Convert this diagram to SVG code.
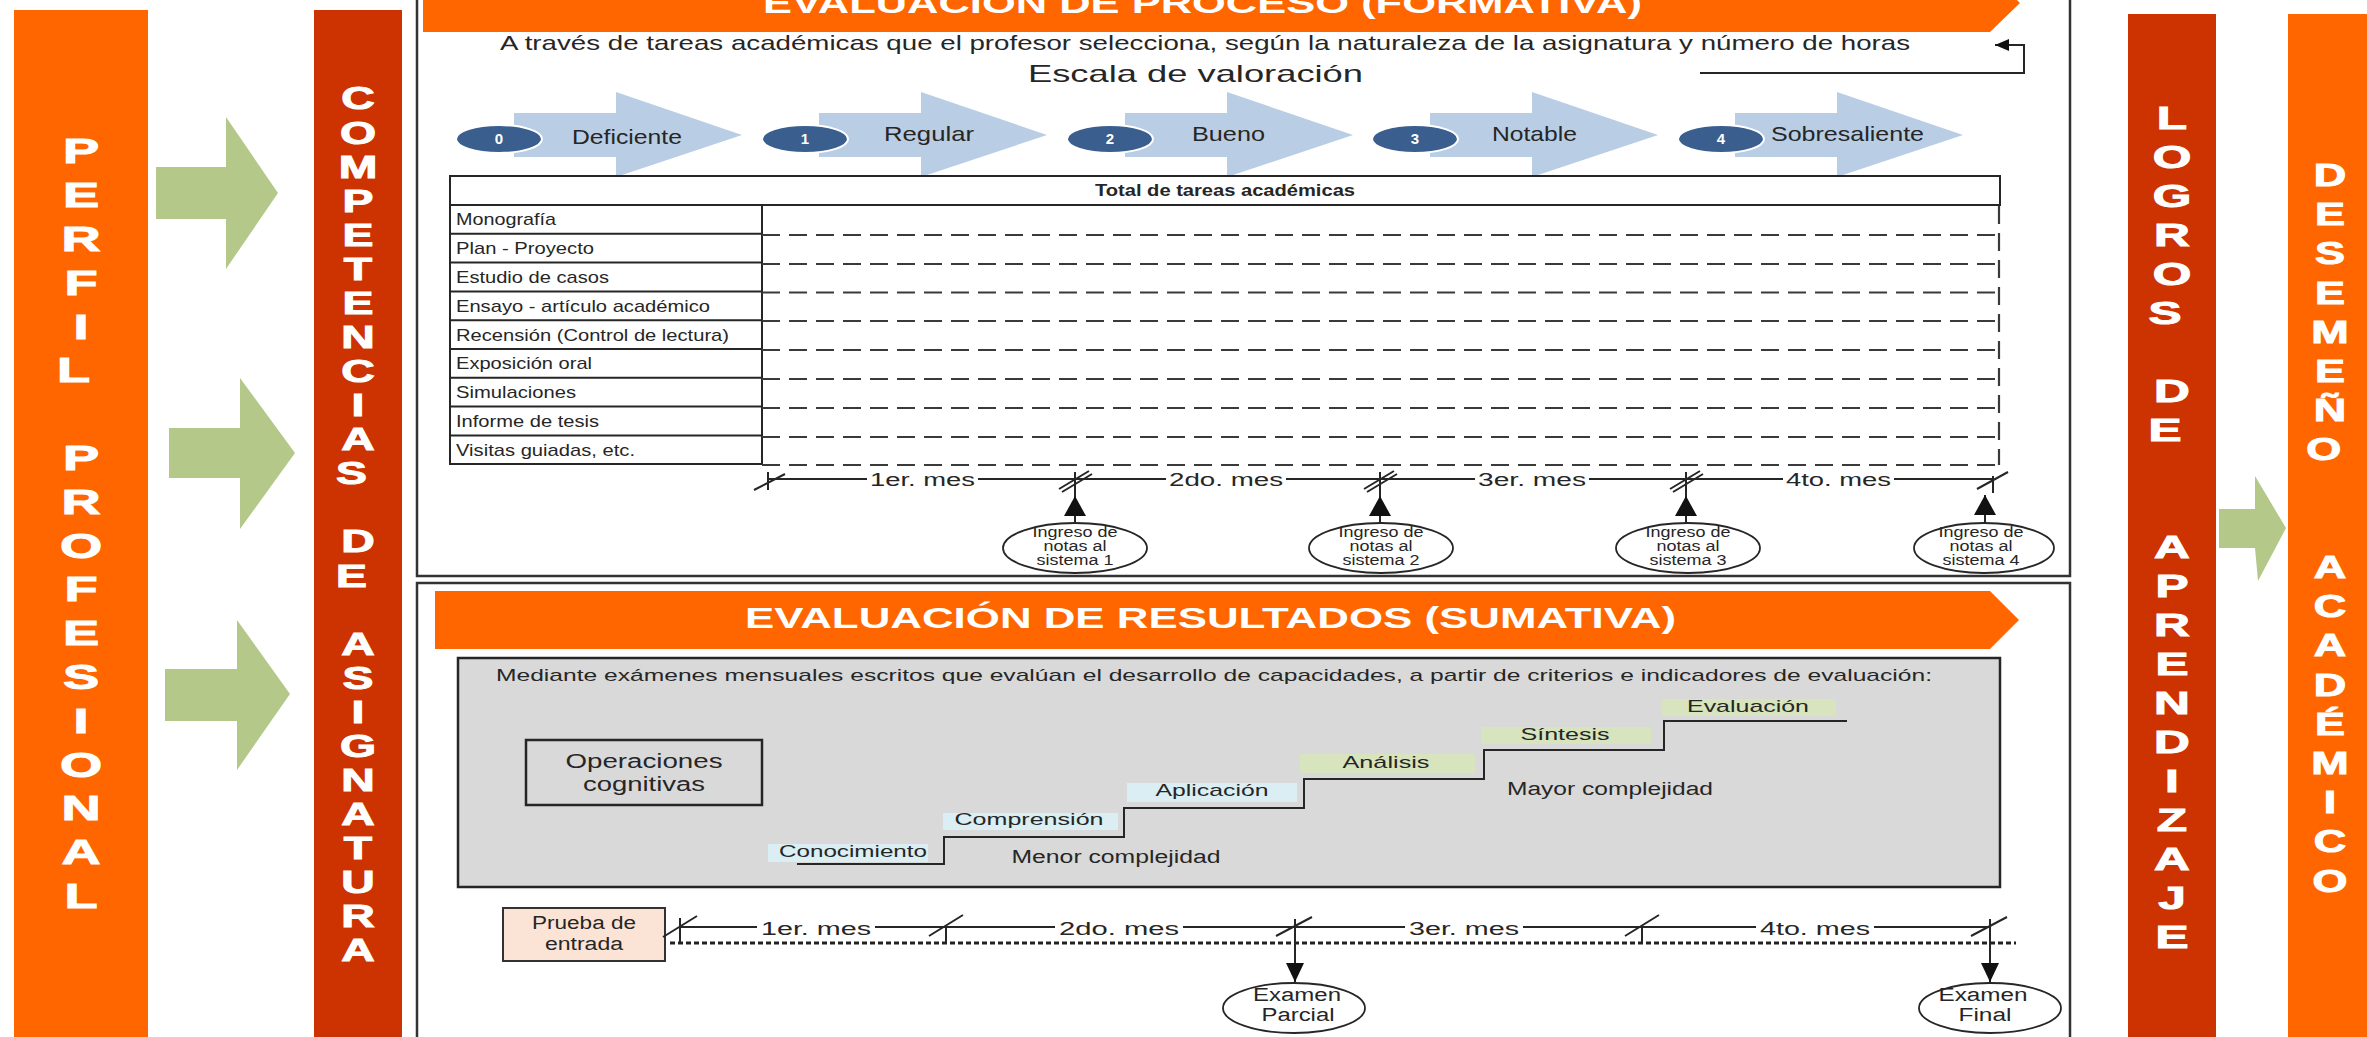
<svg xmlns="http://www.w3.org/2000/svg" width="2367" height="1037" viewBox="0 0 2367 1037">
<style>
.f{font-family:"Liberation Sans",Arial,sans-serif;fill:#262626}
.b{font-weight:bold}
.wt{fill:#fff}
.c{text-anchor:middle}
.vl{font-family:"Liberation Sans",Arial,sans-serif;font-weight:bold;fill:#fff;stroke:#fff;stroke-width:1;text-anchor:middle}
.ln{stroke:#262626;stroke-width:2;fill:none}
.dash{stroke:#3a3a3a;stroke-width:2.2;stroke-dasharray:18 9;fill:none}
.frame{fill:none;stroke:#333;stroke-width:2.5}
.green{fill:#B4C989}
.chev{fill:#B9CDE5}
.circ{fill:#3A5F8E;stroke:#fff;stroke-width:2}
.num{font-family:"Liberation Sans",Arial,sans-serif;font-weight:bold;fill:#fff;text-anchor:middle}
.ell{fill:#fff;stroke:#262626;stroke-width:1.8}
.orange{fill:#FF6600}
.red{fill:#CC3300}
.lab{stroke:none}
</style>
<defs>
<marker id="ah" markerUnits="userSpaceOnUse" markerWidth="20" markerHeight="22" viewBox="0 0 20 22" refX="20" refY="11" orient="auto"><path d="M0,0 L20,11 L0,22 z" fill="#111"/></marker>
<marker id="ah2" markerUnits="userSpaceOnUse" markerWidth="19" markerHeight="18" viewBox="0 0 19 18" refX="19" refY="9" orient="auto"><path d="M0,0 L19,9 L0,18 z" fill="#111"/></marker>
<marker id="ah3" markerUnits="userSpaceOnUse" markerWidth="14" markerHeight="12" viewBox="0 0 14 12" refX="14" refY="6" orient="auto"><path d="M0,0 L14,6 L0,12 z" fill="#111"/></marker>
</defs>

<!-- Left bars -->
<g id="perfil-profesional">
<rect class="orange" x="14" y="10" width="134" height="1030"/>
<g transform="translate(81 0) scale(1.55 1)"><text class="vl" font-size="35">
<tspan x="0" y="163.5">P</tspan><tspan x="0" y="207.3">E</tspan><tspan x="0" y="251.1">R</tspan><tspan x="0" y="294.9">F</tspan><tspan x="0" y="338.7">I</tspan><tspan x="0" y="382.5">L</tspan>
<tspan x="0" y="470.1">P</tspan><tspan x="0" y="513.9">R</tspan><tspan x="0" y="557.7">O</tspan><tspan x="0" y="601.5">F</tspan><tspan x="0" y="645.3">E</tspan><tspan x="0" y="689.1">S</tspan><tspan x="0" y="732.9">I</tspan><tspan x="0" y="776.7">O</tspan><tspan x="0" y="820.5">N</tspan><tspan x="0" y="864.3">A</tspan><tspan x="0" y="908.1">L</tspan>
</text></g>
</g>

<g id="competencias-asignatura">
<rect class="red" x="314" y="10" width="88" height="1030"/>
<g transform="translate(358 0) scale(1.45 1)"><text class="vl" font-size="32">
<tspan x="0" y="109.5">C</tspan><tspan x="0" y="143.6">O</tspan><tspan x="0" y="177.7">M</tspan><tspan x="0" y="211.7">P</tspan><tspan x="0" y="245.8">E</tspan><tspan x="0" y="279.9">T</tspan><tspan x="0" y="314">E</tspan><tspan x="0" y="348.1">N</tspan><tspan x="0" y="382.1">C</tspan><tspan x="0" y="416.2">I</tspan><tspan x="0" y="450.3">A</tspan><tspan x="0" y="484.4">S</tspan>
<tspan x="0" y="552.5">D</tspan><tspan x="0" y="586.6">E</tspan>
<tspan x="0" y="654.8">A</tspan><tspan x="0" y="688.9">S</tspan><tspan x="0" y="722.9">I</tspan><tspan x="0" y="757">G</tspan><tspan x="0" y="791.1">N</tspan><tspan x="0" y="825.2">A</tspan><tspan x="0" y="859.3">T</tspan><tspan x="0" y="893.3">U</tspan><tspan x="0" y="927.4">R</tspan><tspan x="0" y="961.5">A</tspan>
</text></g>
</g>

<!-- Right bars -->
<g id="logros-aprendizaje">
<rect class="red" x="2128" y="14" width="88" height="1030"/>
<g transform="translate(2172 0) scale(1.55 1)"><text class="vl" font-size="32">
<tspan x="0" y="129.5">L</tspan><tspan x="0" y="168.5">O</tspan><tspan x="0" y="207.5">G</tspan><tspan x="0" y="246.5">R</tspan><tspan x="0" y="285.5">O</tspan><tspan x="0" y="324.5">S</tspan>
<tspan x="0" y="402.5">D</tspan><tspan x="0" y="441.5">E</tspan>
<tspan x="0" y="558.5">A</tspan><tspan x="0" y="597.5">P</tspan><tspan x="0" y="636.5">R</tspan><tspan x="0" y="675.5">E</tspan><tspan x="0" y="714.5">N</tspan><tspan x="0" y="753.5">D</tspan><tspan x="0" y="792.5">I</tspan><tspan x="0" y="831.5">Z</tspan><tspan x="0" y="870.5">A</tspan><tspan x="0" y="909.5">J</tspan><tspan x="0" y="948.5">E</tspan>
</text></g>
</g>

<g id="desempeno-academico">
<rect class="orange" x="2288" y="14" width="85" height="1030"/>
<g transform="translate(2330 0) scale(1.45 1)"><text class="vl" font-size="31">
<tspan x="0" y="186">D</tspan><tspan x="0" y="225.2">E</tspan><tspan x="0" y="264.4">S</tspan><tspan x="0" y="303.6">E</tspan><tspan x="0" y="342.8">M</tspan><tspan x="0" y="382">E</tspan><tspan x="0" y="421.2">Ñ</tspan><tspan x="0" y="460.4">O</tspan>
<tspan x="0" y="578">A</tspan><tspan x="0" y="617.2">C</tspan><tspan x="0" y="656.4">A</tspan><tspan x="0" y="695.6">D</tspan><tspan x="0" y="734.8">É</tspan><tspan x="0" y="774">M</tspan><tspan x="0" y="813.2">I</tspan><tspan x="0" y="852.4">C</tspan><tspan x="0" y="891.6">O</tspan>
</text></g>
</g>

<!-- Frames -->
<g id="frames">
<rect class="frame" x="417" y="-10" width="1653" height="586"/>
<rect class="frame" x="417" y="583" width="1653" height="470"/>
</g>

<!-- Top section: formative -->
<g id="header-formativa">
<polygon class="orange" points="423,-26 1990,-26 2020,3 1990,32 423,32"/>
<text class="f b wt" x="763" y="13" font-size="29" textLength="879" lengthAdjust="spacingAndGlyphs">EVALUACIÓN DE PROCESO (FORMATIVA)</text>
</g>
<g id="subtitle-formativa">
<text class="f" x="500" y="50" font-size="21" textLength="1410" lengthAdjust="spacingAndGlyphs">A través de tareas académicas que el profesor selecciona, según la naturaleza de la asignatura y número de horas</text>
<text class="f" x="1028" y="82" font-size="24" textLength="335" lengthAdjust="spacingAndGlyphs">Escala de valoración</text>
</g>

<g id="escala">
<g id="esc-0"><polygon class="chev" points="514,113 616,113 616,92 742,135 616,177 616,157 514,157"/><ellipse class="circ" cx="499" cy="139" rx="43" ry="14"/><text class="num" x="499" y="144" font-size="15">0</text><text class="f" x="572" y="144" font-size="21" textLength="110" lengthAdjust="spacingAndGlyphs">Deficiente</text></g>
<g id="esc-1"><polygon class="chev" points="819,113 921,113 921,92 1047,135 921,177 921,157 819,157"/><ellipse class="circ" cx="805" cy="139" rx="43" ry="14"/><text class="num" x="805" y="144" font-size="15">1</text><text class="f" x="884" y="141" font-size="21" textLength="90" lengthAdjust="spacingAndGlyphs">Regular</text></g>
<g id="esc-2"><polygon class="chev" points="1125,113 1227,113 1227,92 1353,135 1227,177 1227,157 1125,157"/><ellipse class="circ" cx="1110" cy="139" rx="43" ry="14"/><text class="num" x="1110" y="144" font-size="15">2</text><text class="f" x="1192" y="141" font-size="21" textLength="73" lengthAdjust="spacingAndGlyphs">Bueno</text></g>
<g id="esc-3"><polygon class="chev" points="1430,113 1532,113 1532,92 1658,135 1532,177 1532,157 1430,157"/><ellipse class="circ" cx="1415" cy="139" rx="43" ry="14"/><text class="num" x="1415" y="144" font-size="15">3</text><text class="f" x="1492" y="141" font-size="21" textLength="85" lengthAdjust="spacingAndGlyphs">Notable</text></g>
<g id="esc-4"><polygon class="chev" points="1735,113 1837,113 1837,92 1963,135 1837,177 1837,157 1735,157"/><ellipse class="circ" cx="1721" cy="139" rx="43" ry="14"/><text class="num" x="1721" y="144" font-size="15">4</text><text class="f" x="1771" y="141" font-size="21" textLength="153" lengthAdjust="spacingAndGlyphs">Sobresaliente</text></g>
</g>

<g id="tabla-tareas">
<path class="ln" stroke-width="2.5" d="M450,205 V176 H2000 V205 H450 V464 H762 M762,205 V464 M450,233.8 H762 M450,262.6 H762 M450,291.4 H762 M450,320.2 H762 M450,349 H762 M450,377.8 H762 M450,406.6 H762 M450,435.4 H762"/>
<text class="f b" x="1095" y="196" font-size="16" textLength="260" lengthAdjust="spacingAndGlyphs">Total de tareas académicas</text>
<path class="dash" d="M762,235 H2000 M762,264 H2000 M762,292.5 H2000 M762,321 H2000 M762,350 H2000 M762,379 H2000 M762,408 H2000 M762,437 H2000 M762,465 H2000"/>
<path class="dash" stroke-dasharray="14 8" d="M1999,206 V465"/>
<text class="f" x="456" y="225" font-size="17" textLength="100" lengthAdjust="spacingAndGlyphs">Monografía</text>
<text class="f" x="456" y="254" font-size="17" textLength="138" lengthAdjust="spacingAndGlyphs">Plan - Proyecto</text>
<text class="f" x="456" y="283" font-size="17" textLength="153" lengthAdjust="spacingAndGlyphs">Estudio de casos</text>
<text class="f" x="456" y="311.5" font-size="17" textLength="254" lengthAdjust="spacingAndGlyphs">Ensayo - artículo académico</text>
<text class="f" x="456" y="340.5" font-size="17" textLength="273" lengthAdjust="spacingAndGlyphs">Recensión (Control de lectura)</text>
<text class="f" x="456" y="369" font-size="17" textLength="136" lengthAdjust="spacingAndGlyphs">Exposición oral</text>
<text class="f" x="456" y="398" font-size="17" textLength="120" lengthAdjust="spacingAndGlyphs">Simulaciones</text>
<text class="f" x="456" y="427" font-size="17" textLength="143" lengthAdjust="spacingAndGlyphs">Informe de tesis</text>
<text class="f" x="456" y="455.5" font-size="17" textLength="179" lengthAdjust="spacingAndGlyphs">Visitas guiadas, etc.</text>
</g>

<g id="ingreso-1"><ellipse class="ell" cx="1075" cy="548" rx="72" ry="25"/><text class="f c" font-size="14"><tspan x="1075" y="537" textLength="85" lengthAdjust="spacingAndGlyphs">Ingreso de</tspan><tspan x="1075" y="551" textLength="63" lengthAdjust="spacingAndGlyphs">notas al</tspan><tspan x="1075" y="565" textLength="77" lengthAdjust="spacingAndGlyphs">sistema 1</tspan></text></g>
<g id="ingreso-2"><ellipse class="ell" cx="1381" cy="548" rx="72" ry="25"/><text class="f c" font-size="14"><tspan x="1381" y="537" textLength="85" lengthAdjust="spacingAndGlyphs">Ingreso de</tspan><tspan x="1381" y="551" textLength="63" lengthAdjust="spacingAndGlyphs">notas al</tspan><tspan x="1381" y="565" textLength="77" lengthAdjust="spacingAndGlyphs">sistema 2</tspan></text></g>
<g id="ingreso-3"><ellipse class="ell" cx="1688" cy="548" rx="72" ry="25"/><text class="f c" font-size="14"><tspan x="1688" y="537" textLength="85" lengthAdjust="spacingAndGlyphs">Ingreso de</tspan><tspan x="1688" y="551" textLength="63" lengthAdjust="spacingAndGlyphs">notas al</tspan><tspan x="1688" y="565" textLength="77" lengthAdjust="spacingAndGlyphs">sistema 3</tspan></text></g>
<g id="ingreso-4"><ellipse class="ell" cx="1984" cy="548" rx="70" ry="25"/><text class="f c" font-size="14"><tspan x="1981" y="537" textLength="85" lengthAdjust="spacingAndGlyphs">Ingreso de</tspan><tspan x="1981" y="551" textLength="63" lengthAdjust="spacingAndGlyphs">notas al</tspan><tspan x="1981" y="565" textLength="77" lengthAdjust="spacingAndGlyphs">sistema 4</tspan></text></g>

<g id="meses-formativa">
<text class="f" x="870" y="486" font-size="18" textLength="105" lengthAdjust="spacingAndGlyphs">1er. mes</text>
<text class="f" x="1169" y="486" font-size="18" textLength="114" lengthAdjust="spacingAndGlyphs">2do. mes</text>
<text class="f" x="1478" y="486" font-size="18" textLength="108" lengthAdjust="spacingAndGlyphs">3er. mes</text>
<text class="f" x="1786" y="486" font-size="18" textLength="105" lengthAdjust="spacingAndGlyphs">4to. mes</text>
</g>

<!-- Bottom section: summative -->
<g id="header-sumativa">
<polygon class="orange" points="435,591 1990,591 2019,620 1990,649 435,649"/>
<text class="f b wt" x="745" y="628" font-size="29" textLength="931" lengthAdjust="spacingAndGlyphs">EVALUACIÓN DE RESULTADOS (SUMATIVA)</text>
</g>

<g id="operaciones-panel">
<rect x="458" y="658" width="1542" height="229" fill="#D9D9D9" stroke="#262626" stroke-width="2.5"/>
<text class="f" x="496" y="681" font-size="17" textLength="1436" lengthAdjust="spacingAndGlyphs">Mediante exámenes mensuales escritos que evalúan el desarrollo de capacidades, a partir de criterios e indicadores de evaluación:</text>
</g>
<g id="operaciones-cognitivas">
<rect x="526" y="740" width="236" height="65" fill="none" stroke="#262626" stroke-width="2.5"/>
<text class="f c" font-size="20"><tspan x="644" y="768" textLength="157" lengthAdjust="spacingAndGlyphs">Operaciones</tspan><tspan x="644" y="791" textLength="122" lengthAdjust="spacingAndGlyphs">cognitivas</tspan></text>
</g>
<g id="escalera">
<path class="ln" stroke-width="2.5" d="M797,864 H944 V837 H1124 V808 H1304 V779 H1484 V750 H1664 V721 H1847"/>
</g>
<g id="conocimiento"><rect class="lab" x="768" y="844" width="160" height="18" fill="#DAEEF3"/><text class="f c" x="853" y="857" font-size="17" textLength="148" lengthAdjust="spacingAndGlyphs">Conocimiento</text></g>
<g id="comprension"><rect class="lab" x="943" y="813" width="175" height="17" fill="#DAEEF3"/><text class="f c" x="1029" y="825" font-size="17" textLength="149" lengthAdjust="spacingAndGlyphs">Comprensión</text></g>
<g id="aplicacion"><rect class="lab" x="1127" y="783" width="170" height="19" fill="#DAEEF3"/><text class="f c" x="1212" y="796" font-size="17" textLength="113" lengthAdjust="spacingAndGlyphs">Aplicación</text></g>
<g id="analisis"><rect class="lab" x="1300" y="754" width="175" height="19" fill="#D7E4BD"/><text class="f c" x="1386" y="768" font-size="17" textLength="87" lengthAdjust="spacingAndGlyphs">Análisis</text></g>
<g id="sintesis"><rect class="lab" x="1481" y="727" width="170" height="17" fill="#D7E4BD"/><text class="f c" x="1565" y="740" font-size="17" textLength="89" lengthAdjust="spacingAndGlyphs">Síntesis</text></g>
<g id="evaluacion"><rect class="lab" x="1662" y="699" width="174" height="17" fill="#D7E4BD"/><text class="f c" x="1748" y="712" font-size="17" textLength="122" lengthAdjust="spacingAndGlyphs">Evaluación</text></g>
<g id="complejidad">
<text class="f c" x="1116" y="863" font-size="18" textLength="209" lengthAdjust="spacingAndGlyphs">Menor complejidad</text>
<text class="f c" x="1610" y="795" font-size="18" textLength="206" lengthAdjust="spacingAndGlyphs">Mayor complejidad</text>
</g>

<g id="prueba-entrada">
<rect x="503" y="908" width="162" height="53" fill="#FBE4D5" stroke="#333" stroke-width="2"/>
<text class="f c" font-size="18"><tspan x="584" y="929" textLength="104" lengthAdjust="spacingAndGlyphs">Prueba de</tspan><tspan x="584" y="950" textLength="78" lengthAdjust="spacingAndGlyphs">entrada</tspan></text>
</g>
<g id="meses-sumativa">
<text class="f" x="761" y="935" font-size="18" textLength="110" lengthAdjust="spacingAndGlyphs">1er. mes</text>
<text class="f" x="1059" y="935" font-size="18" textLength="120" lengthAdjust="spacingAndGlyphs">2do. mes</text>
<text class="f" x="1409" y="935" font-size="18" textLength="110" lengthAdjust="spacingAndGlyphs">3er. mes</text>
<text class="f" x="1760" y="935" font-size="18" textLength="110" lengthAdjust="spacingAndGlyphs">4to. mes</text>
</g>
<g id="examen-parcial"><ellipse class="ell" cx="1294" cy="1008" rx="71" ry="25"/><text class="f c" font-size="18"><tspan x="1297" y="1001" textLength="88" lengthAdjust="spacingAndGlyphs">Examen</tspan><tspan x="1298" y="1021" textLength="73" lengthAdjust="spacingAndGlyphs">Parcial</tspan></text></g>
<g id="examen-final"><ellipse class="ell" cx="1990" cy="1008" rx="71" ry="25"/><text class="f c" font-size="18"><tspan x="1983" y="1001" textLength="89" lengthAdjust="spacingAndGlyphs">Examen</tspan><tspan x="1985" y="1021" textLength="53" lengthAdjust="spacingAndGlyphs">Final</tspan></text></g>

<!-- Connectors -->
<g id="connectors">
<polygon class="green" points="156,167 226,167 226,117 278,193 226,269 226,219 156,219"/>
<polygon class="green" points="169,428 240,428 240,378 295,453 240,529 240,478 169,478"/>
<polygon class="green" points="165,669 237,669 237,620 290,694 237,770 237,721 165,721"/>
<polygon class="green" points="2219,509 2255,509 2255,476 2286,528 2258,581 2255,548 2219,548"/>
<path class="ln" d="M1700,73 H2024 V45 H1995" marker-end="url(#ah3)"/>
<!-- top timeline -->
<path class="ln" d="M768,479 H867 M978,479 H1166 M1286,479 H1475 M1589,479 H1783 M1894,479 H1993"/>
<path class="ln" d="M768,472 V490 M754,490 L785,474 M1993,476 V493 M1977,489 L2008,472"/>
<path class="ln" d="M1059,489 L1089,471 M1062,492 L1092,474 M1364,489 L1394,471 M1367,492 L1397,474 M1670,489 L1700,471 M1673,492 L1703,474"/>
<path class="ln" d="M1075,472 V523 M1380,472 V523 M1686,472 V523 M1985,496 V523"/>
<line class="ln" x1="1075" y1="523" x2="1075" y2="496" marker-end="url(#ah)"/>
<line class="ln" x1="1380" y1="523" x2="1380" y2="496" marker-end="url(#ah)"/>
<line class="ln" x1="1686" y1="523" x2="1686" y2="496" marker-end="url(#ah)"/>
<line class="ln" x1="1985" y1="523" x2="1985" y2="495" marker-end="url(#ah)"/>
<!-- bottom timeline -->
<path class="ln" d="M680,927 H757 M875,927 H1055 M1183,927 H1405 M1523,927 H1756 M1874,927 H1990"/>
<path stroke="#222" stroke-width="3" stroke-dasharray="5 3" fill="none" d="M670,943 H2016"/>
<path class="ln" d="M680,918 V942 M663,937 L697,916 M946,927 V944 M929,936 L963,915 M1642,927 V944 M1625,936 L1659,915 M1276,936 L1312,917 M1971,936 L2007,917"/>
<line class="ln" x1="1295" y1="919" x2="1295" y2="982" marker-end="url(#ah2)"/>
<line class="ln" x1="1990" y1="919" x2="1990" y2="982" marker-end="url(#ah2)"/>
</g>
</svg>
